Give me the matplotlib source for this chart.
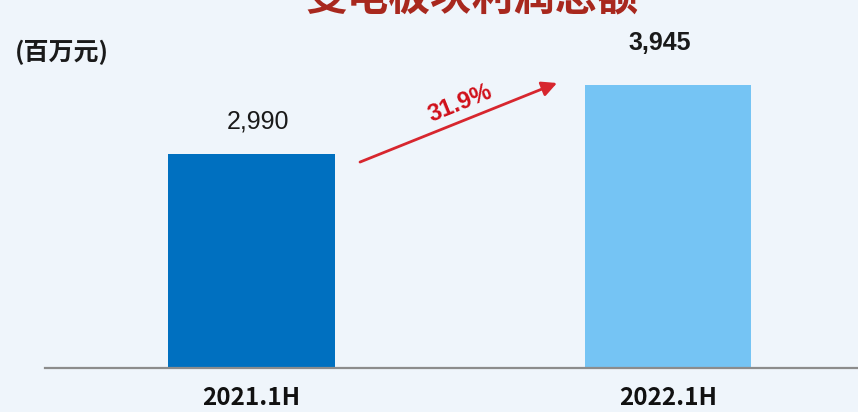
import matplotlib
matplotlib.use("Agg")
import matplotlib.pyplot as plt

plt.rcParams['font.family'] = ['Noto Sans CJK SC', 'DejaVu Sans']

categories = ["2021.1H", "2022.1H"]
profits = [2990, 3945]
value_labels = ["2,990", "3,945"]
growth_label = "31.9%"
title = "变电板块利润总额"
unit_label = "(百万元)"

bar_colors = ["#0070C0", "#75C4F4"]
bg = "#EFF5FB"

W, H = 858, 412
fig = plt.figure(figsize=(W / 100, H / 100), dpi=100, facecolor=bg)
ax = fig.add_axes([45 / W, 44 / H, 813 / W, 368 / H], facecolor=bg)

x = list(range(len(categories)))
ax.bar(x, profits, width=0.40, color=bar_colors, zorder=2)

ax.set_xlim(-0.4958, 1.456)
ax.set_ylim(0, 5130)

label_offsets = [(5, 23), (-6, 30)]
for xi, v, lab, off in zip(x, profits, value_labels, label_offsets):
    bold = xi == 1
    ax.annotate(lab, (xi, v), xytext=off, textcoords="offset points",
                ha="center", va="center", fontsize=18,
                fontweight="bold" if bold else "normal",
                family=["Liberation Sans", "DejaVu Sans"], color="#1a1a1a")

for s in ("top", "left", "right"):
    ax.spines[s].set_visible(False)
ax.spines["bottom"].set_color("#8C8C8C")
ax.spines["bottom"].set_linewidth(1.6)
ax.set_yticks([])
ax.set_xticks(x)
ax.set_xticklabels(categories, fontsize=17.5, fontweight="bold",
                   family=["Noto Sans CJK SC", "DejaVu Sans"], color="#111111")
ax.tick_params(axis="x", length=0, pad=13)

# growth arrow between the two periods
ax.annotate("", xy=(0.7335, 3973), xytext=(0.2605, 2871),
            arrowprops=dict(arrowstyle="-|>,head_length=0.9,head_width=0.45",
                            color="#D7262E", lw=2.0, shrinkA=0, shrinkB=0))
ax.text(0.50, 3690, growth_label, rotation=22, ha="center", va="center",
        fontsize=17, fontweight="bold", color="#D0101A",
        family=["Liberation Sans", "DejaVu Sans"])

fig.text(15 / W, (H - 52) / H, unit_label, fontsize=18, fontweight="bold",
         ha="left", va="center", color="#1a1a1a")
fig.text(472 / W, (H - 19) / H, title, fontsize=30, fontweight="bold",
         ha="center", va="bottom", color="#A8281E")

fig.savefig("out.png", dpi=100, facecolor=bg)
